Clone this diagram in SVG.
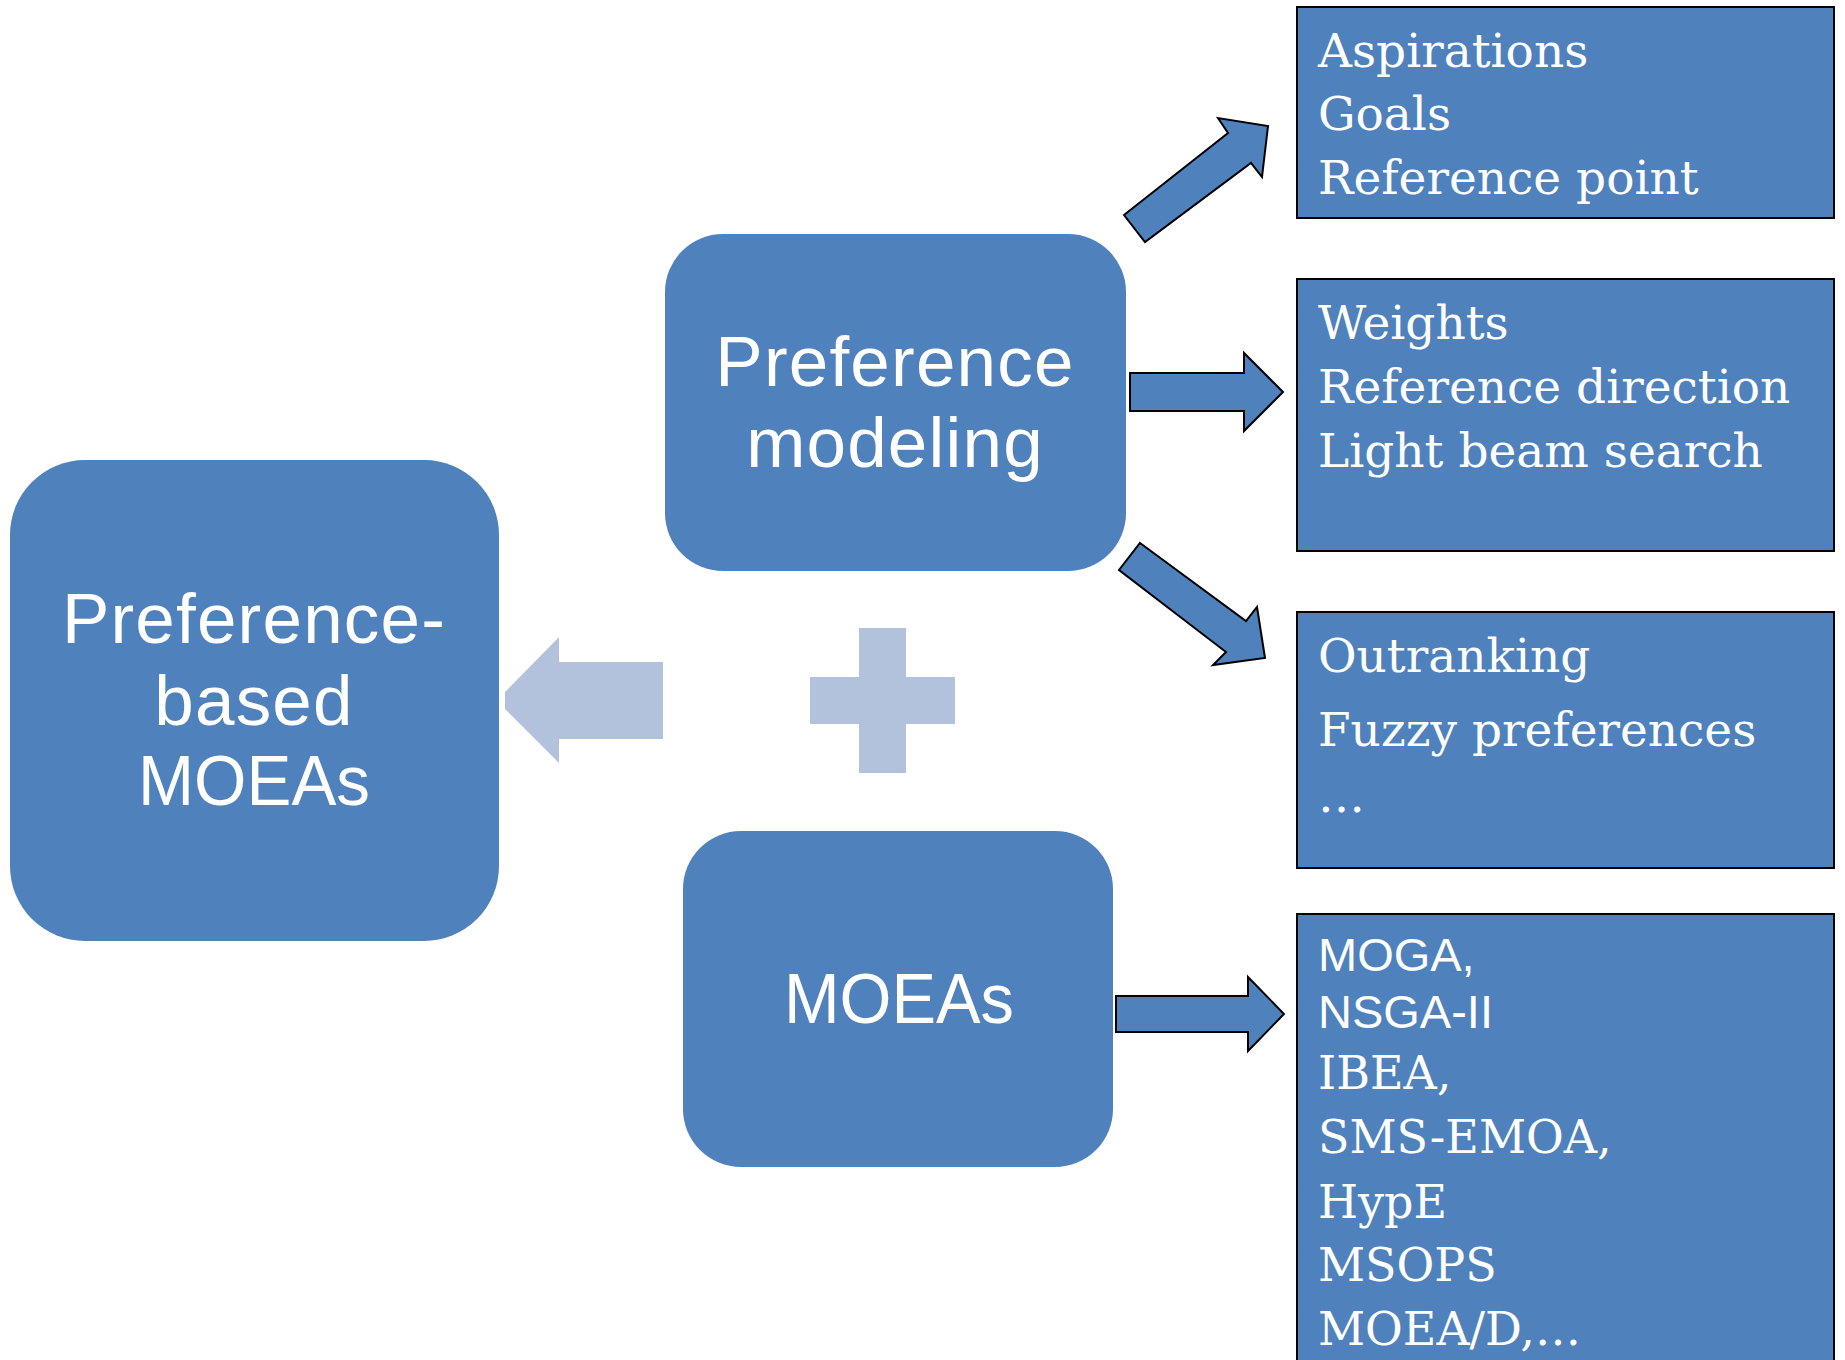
<svg xmlns="http://www.w3.org/2000/svg" width="1845" height="1360" viewBox="0 0 1845 1360">
<style>
.node{fill:#4F81BD}
.box{fill:#4F81BD;stroke:#000;stroke-width:2}
.arr{fill:#4F81BD;stroke:#000;stroke-width:2;stroke-linejoin:miter}
.light{fill:#B3C2DC}
.big{font-family:"Liberation Sans",Arial,sans-serif;font-size:71px;fill:#fff;text-anchor:middle;letter-spacing:1.2px}
.big2{font-family:"Liberation Sans",Arial,sans-serif;font-size:71px;fill:#fff;text-anchor:middle}
.ser{font-family:"DejaVu Serif","Liberation Serif",serif;font-size:47px;fill:#fff}
.ser2{font-family:"DejaVu Serif","Liberation Serif",serif;font-size:46px;fill:#fff}
.sans{font-family:"Liberation Sans",Arial,sans-serif;font-size:47px;fill:#fff}
</style>
<rect width="1845" height="1360" fill="#fff"/>
<g id="connectors">
<polygon class="light" points="505,692 559,637 559,662 663,662 663,739 559,739 559,763 505,709"/>
<polygon class="light" points="859,628 906,628 906,677 955,677 955,724 906,724 906,773 859,773 859,724 810,724 810,677 859,677"/>
<polygon class="arr" points="1124,215 1228,133 1218,118 1268,126 1262,177 1251,163 1145,242"/>
<polygon class="arr" points="1130,373 1244,373 1244,353 1283,392 1244,431 1244,411 1130,411"/>
<polygon class="arr" points="1140,543 1246,621 1257,607 1265,658 1213,665 1226,652 1119,570"/>
<polygon class="arr" points="1116,996 1248,996 1248,977 1284,1014 1248,1051 1248,1032 1116,1032"/>
</g>
<g id="n-pref-moeas">
<rect class="node" x="10" y="460" width="489" height="481" rx="75" ry="75"/>
<text class="big" x="254" y="643">Preference-</text>
<text class="big" x="254" y="725">based</text>
<text class="big2" x="254" y="805" textLength="232" lengthAdjust="spacingAndGlyphs">MOEAs</text>
</g>
<g id="n-pref-modeling">
<rect class="node" x="665" y="234" width="461" height="337" rx="58" ry="58"/>
<text class="big" x="895" y="386">Preference</text>
<text class="big" x="895" y="467">modeling</text>
</g>
<g id="n-moeas">
<rect class="node" x="683" y="831" width="430" height="336" rx="58" ry="58"/>
<text class="big2" x="899" y="1023" textLength="230" lengthAdjust="spacingAndGlyphs">MOEAs</text>
</g>
<g id="b-aspirations">
<rect class="box" x="1297" y="7" width="537" height="211"/>
<text class="ser" x="1318" y="67">Aspirations</text>
<text class="ser" x="1318" y="130">Goals</text>
<text class="ser" x="1318" y="194">Reference point</text>
</g>
<g id="b-weights">
<rect class="box" x="1297" y="279" width="537" height="272"/>
<text class="ser" x="1318" y="339">Weights</text>
<text class="ser" x="1318" y="403">Reference direction</text>
<text class="ser" x="1318" y="467">Light beam search</text>
</g>
<g id="b-outranking">
<rect class="box" x="1297" y="612" width="537" height="256"/>
<text class="ser" x="1318" y="672">Outranking</text>
<text class="ser" x="1318" y="746">Fuzzy preferences</text>
<text class="ser" x="1318" y="812">…</text>
</g>
<g id="b-algorithms">
<rect class="box" x="1297" y="914" width="537" height="460"/>
<text class="sans" x="1318" y="971">MOGA,</text>
<text class="sans" x="1318" y="1028">NSGA-II</text>
<text class="ser2" x="1318" y="1089">IBEA,</text>
<text class="ser2" x="1318" y="1153">SMS-EMOA,</text>
<text class="ser2" x="1318" y="1218">HypE</text>
<text class="ser2" x="1318" y="1281">MSOPS</text>
<text class="ser2" x="1318" y="1345">MOEA/D,…</text>
</g>
</svg>
